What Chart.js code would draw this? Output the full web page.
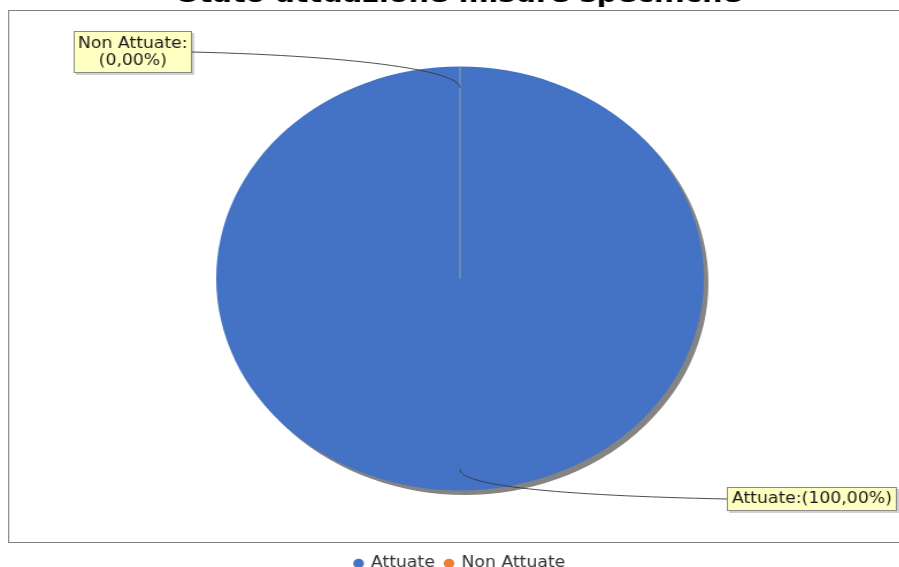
<!DOCTYPE html>
<html><head><meta charset="utf-8">
<script src="https://cdn.jsdelivr.net/npm/chart.js@4.4.0/dist/chart.umd.min.js"></script>
<style>
html,body{margin:0;padding:0;background:#fff;overflow:hidden;}
#wrap{position:relative;width:899px;height:567px;overflow:hidden;background:#fff;}
#stage{position:absolute;left:0;top:-20px;width:800px;height:601px;transform:scaleX(1.15);transform-origin:0 0;}
canvas{display:block;}
</style></head><body>
<div id="wrap"><div id="stage"><canvas id="c" width="800" height="601"></canvas></div></div>
<script>
const TITLE = 'Stato attuazione misure specifiche';
const categories = ['Attuate', 'Non Attuate'];
const values = [100, 0];
const colors = ['#4472C4', '#ED7D31'];

function pct(v){ const t = values.reduce((a,b)=>a+b,0); return (v/t*100).toFixed(2).replace('.', ','); }
const labelLines = [
  [categories[0] + ':(' + pct(values[0]) + '%)'],
  [categories[1] + ':', '(' + pct(values[1]) + '%)']
];
// label box layout (canvas units)
const labelBoxes = [
  {x:632, y:507, w:148, h:24, side:'right'},
  {x:64,  y:51,  w:103, h:42, side:'left'}
];

Chart.defaults.font.family = 'DejaVu Sans';

const deco = {
  id:'deco',
  beforeDraw(chart){
    const ctx = chart.ctx;
    ctx.save();
    ctx.fillStyle = '#fff';
    ctx.fillRect(0,0,chart.width,chart.height);
    ctx.strokeStyle = '#7f7f7f';
    ctx.lineWidth = 1;
    ctx.strokeRect(7.5, 30.5, 900, 532);
    ctx.restore();
  },
  beforeDatasetsDraw(chart){
    const ctx = chart.ctx;
    const arc = chart.getDatasetMeta(0).data[0];
    ctx.save();
    ctx.fillStyle = '#848484';
    ctx.filter = 'blur(0.6px)';
    ctx.beginPath();
    ctx.arc(arc.x + 4, arc.y + 4.5, arc.outerRadius, 0, Math.PI*2);
    ctx.fill();
    ctx.restore();
  },
  afterDatasetsDraw(chart){
    const ctx = chart.ctx;
    const arcs = chart.getDatasetMeta(0).data;
    ctx.save();
    // radial separator line
    const a0 = arcs[0];
    ctx.strokeStyle = 'rgba(160,165,180,0.75)';
    ctx.lineWidth = 1.2;
    ctx.beginPath();
    ctx.moveTo(a0.x, a0.y);
    ctx.lineTo(a0.x + a0.outerRadius*Math.cos(a0.startAngle), a0.y + a0.outerRadius*Math.sin(a0.startAngle));
    ctx.stroke();
    // connectors + labels
    arcs.forEach((arc, i) => {
      const mid = (arc.startAngle + arc.endAngle)/2;
      const r = arc.outerRadius * 0.9;
      const A = {x: arc.x + r*Math.cos(mid), y: arc.y + r*Math.sin(mid)};
      const b = labelBoxes[i];
      const L = {x: b.side === 'left' ? b.x + b.w : b.x, y: b.y + b.h/2};
      const dir = Math.sin(mid) < 0 ? -1 : 1;
      ctx.strokeStyle = '#3a3a3a';
      ctx.lineWidth = 0.9;
      ctx.beginPath();
      ctx.moveTo(A.x, A.y);
      ctx.bezierCurveTo(A.x, A.y + dir*16, A.x + 0.35*(L.x - A.x), L.y + (A.y - L.y)*0.12, L.x, L.y);
      ctx.stroke();
      // box
      ctx.fillStyle = 'rgba(0,0,0,0.18)';
      ctx.fillRect(b.x + 2, b.y + 2, b.w, b.h);
      ctx.fillStyle = '#FFFFC2';
      ctx.fillRect(b.x, b.y, b.w, b.h);
      ctx.strokeStyle = '#8a8a8a';
      ctx.lineWidth = 1;
      ctx.strokeRect(b.x + 0.5, b.y + 0.5, b.w - 1, b.h - 1);
      ctx.fillStyle = '#1a1a1a';
      ctx.font = '15px "DejaVu Sans"';
      ctx.textAlign = 'center';
      ctx.textBaseline = 'middle';
      const lines = labelLines[i];
      const lh = 17;
      const cy = b.y + b.h/2 - (lines.length - 1)*lh/2;
      lines.forEach((t, k) => ctx.fillText(t, b.x + b.w/2, cy + k*lh + 0.5));
    });
    ctx.restore();
  }
};

new Chart(document.getElementById('c').getContext('2d'), {
  type: 'pie',
  data: {
    labels: categories,
    datasets: [{
      data: values,
      backgroundColor: colors,
      borderWidth: 0,
      hoverOffset: 0,
      radius: 212
    }]
  },
  options: {
    responsive: false,
    animation: false,
    devicePixelRatio: 1,
    layout: {padding: 0},
    plugins: {
      title: {
        display: true,
        text: TITLE,
        color: '#000',
        font: {family: 'DejaVu Sans', size: 25, weight: 'bold'},
        padding: 0
      },
      legend: {
        position: 'bottom',
        labels: {
          usePointStyle: true,
          pointStyle: 'circle',
          boxWidth: 6.6,
          boxHeight: 6.6,
          color: '#333',
          font: {family: 'DejaVu Sans', size: 15},
          padding: 9
        }
      },
      tooltip: {enabled: false}
    }
  },
  plugins: [deco]
});
</script>
</body></html>
